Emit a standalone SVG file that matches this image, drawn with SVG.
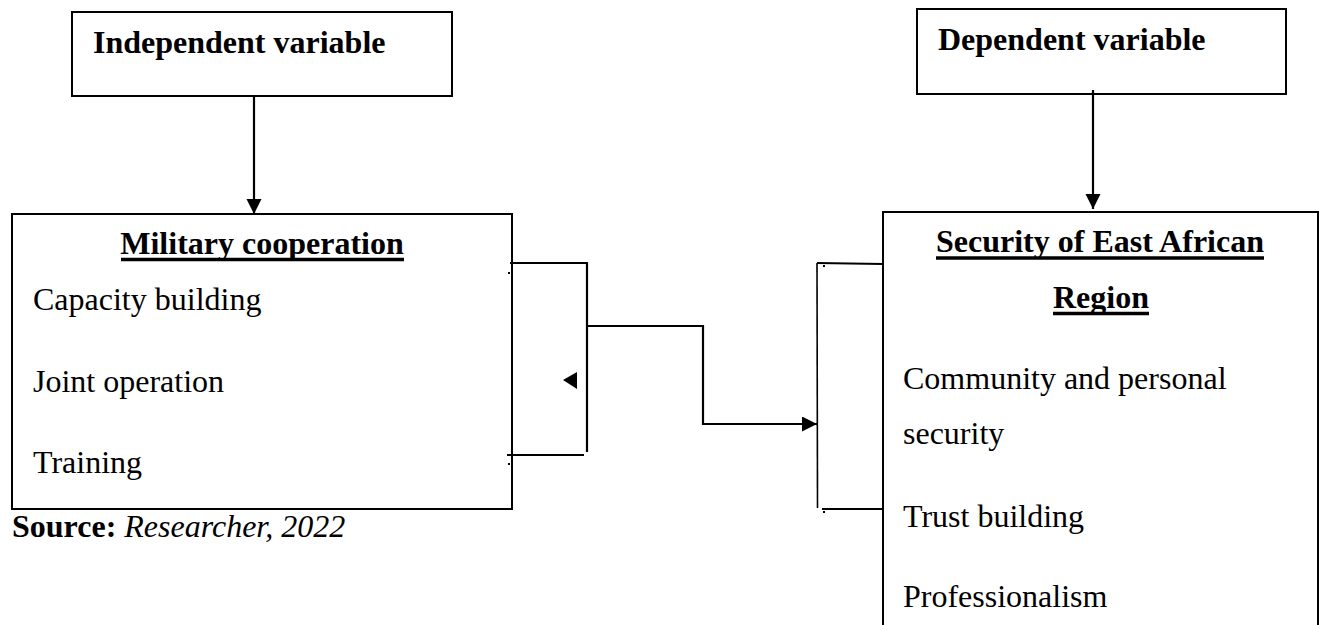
<svg xmlns="http://www.w3.org/2000/svg" width="1321" height="625" viewBox="0 0 1321 625">
<style>
.box{fill:#fff;stroke:#000;stroke-width:2}
.ln{fill:none;stroke:#000;stroke-width:2.2}
.thin{fill:none;stroke:#000;stroke-width:1.6}
.ul{stroke:#000;stroke-width:3.5}
.t{font-family:"Liberation Serif","Times New Roman",serif;font-size:32px;fill:#000}
.b{font-weight:bold}
</style>
<defs>
<marker id="ah" markerUnits="userSpaceOnUse" markerWidth="16" markerHeight="16" refX="15" refY="7.5" orient="auto">
<path d="M0,0 L15,7.5 L0,15 Z" fill="#000"/>
</marker>
</defs>
<rect width="1321" height="625" fill="#fff"/>
<g id="independent">
<rect class="box" x="72" y="12" width="380" height="84"/>
<text class="t b" x="93" y="53">Independent variable</text>
</g>
<g id="dependent">
<rect class="box" x="917" y="9" width="369" height="85"/>
<text class="t b" x="938" y="50">Dependent variable</text>
</g>
<g id="military">
<rect class="box" x="12" y="214" width="500" height="295"/>
<text class="t b" x="262" y="254" text-anchor="middle">Military cooperation</text>
<line class="ul" x1="121" y1="259.5" x2="404" y2="259.5"/>
<text class="t" x="33" y="310">Capacity building</text>
<text class="t" x="33" y="392">Joint operation</text>
<text class="t" x="33" y="473">Training</text>
</g>
<g id="security">
<path class="box" d="M883,640 L883,212 L1318,212 L1318,640"/>
<text class="t b" x="1100" y="252" text-anchor="middle">Security of East African</text>
<line class="ul" x1="936" y1="258" x2="1264" y2="258"/>
<text class="t b" x="1101" y="308" text-anchor="middle">Region</text>
<line class="ul" x1="1053" y1="313.5" x2="1149" y2="313.5"/>
<text class="t" x="903" y="389">Community and personal</text>
<text class="t" x="903" y="444">security</text>
<text class="t" x="903" y="527">Trust building</text>
<text class="t" x="903" y="607">Professionalism</text>
</g>
<g id="source">
<text class="t" x="12" y="537"><tspan class="b">Source:</tspan> <tspan font-style="italic">Researcher, 2022</tspan></text>
</g>
<g id="connectors">
<line class="ln" x1="254" y1="96" x2="254" y2="214" marker-end="url(#ah)"/>
<line class="ln" x1="1093" y1="90" x2="1093" y2="209" marker-end="url(#ah)"/>
<polyline class="ln" points="510,263 587,263 587,452"/>
<line class="ln" x1="507" y1="455" x2="584" y2="455"/>
<polyline class="ln" points="588,326 703,326 703,424 817,424" marker-end="url(#ah)"/>
<path d="M563,380 L577,372 L577,389 Z" fill="#000"/>
<line class="thin" x1="817" y1="263" x2="817.5" y2="508"/>
<line class="ln" x1="817" y1="263" x2="883" y2="264"/>
<line class="ln" x1="822" y1="509" x2="883" y2="509"/>
<rect x="508" y="272" width="2" height="2" fill="#000"/>
<rect x="508" y="463" width="2" height="2" fill="#000"/>
<rect x="823" y="265" width="2" height="2" fill="#000"/>
<rect x="823" y="511" width="2" height="2" fill="#000"/>
</g>
</svg>
